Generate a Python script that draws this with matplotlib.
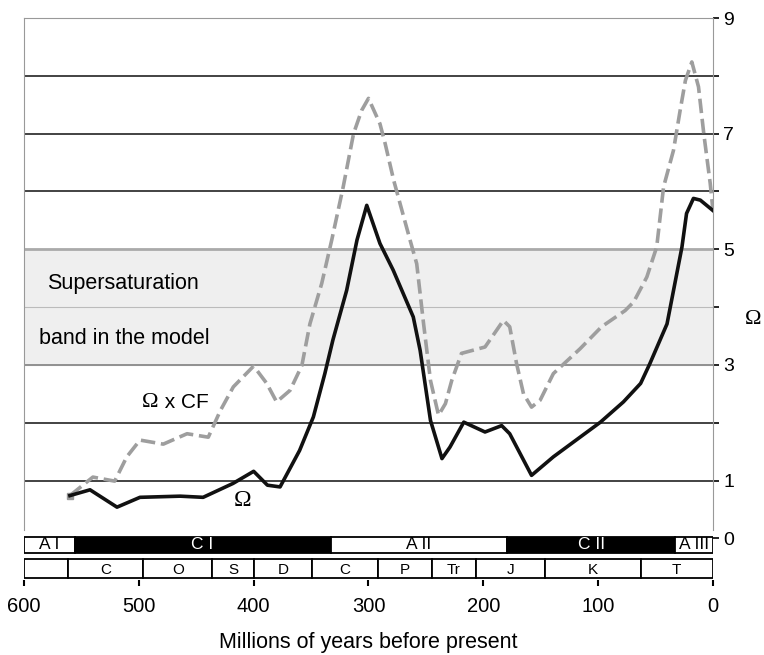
import matplotlib.pyplot as plt
from matplotlib.ticker import FixedLocator

plt.rcParams['font.family'] = ['Liberation Sans', 'DejaVu Sans']

# Omega (solid black)
omega_age = [560, 542.5, 519, 499, 464, 444, 418, 400, 388, 377, 360, 348, 338, 331,
             319, 310, 301.5, 290, 278.5, 261, 255, 246, 236, 229, 217, 198.5, 184,
             177, 158, 139, 118.5, 98, 78, 63, 55, 40, 31.5, 27, 23, 17, 11, 0]
omega_val = [0.74, 0.84, 0.54, 0.71, 0.73, 0.71, 0.95, 1.16, 0.92, 0.89, 1.52, 2.1, 2.85, 3.43,
             4.29, 5.16, 5.76, 5.1, 4.64, 3.83, 3.25, 2.04, 1.38, 1.58, 2.01, 1.84, 1.95,
             1.81, 1.09, 1.41, 1.71, 2.01, 2.36, 2.68, 3.02, 3.71, 4.58, 5.04, 5.62, 5.88, 5.85, 5.67]

# Omega x CF (grey dashed)
cf_age = [560, 540, 521, 510.5, 499, 478.7, 458, 439.5, 429, 417.7, 400, 388.6, 380, 368.3,
          358, 351, 340.7, 332, 322, 313, 306, 300, 290, 285.5, 278, 263.8, 258, 252, 246,
          239, 233, 227.5, 219, 198.5, 182.5, 177, 171, 165, 158, 150.5, 139, 115.7, 97,
          76.5, 69, 57.6, 49, 43, 34.4, 28.6, 24, 18.4, 12.6, 8, 2.4, 0]
cf_val = [0.74, 1.06, 0.99, 1.41, 1.70, 1.63, 1.81, 1.75, 2.21, 2.62, 2.98, 2.68, 2.36, 2.56,
          2.99, 3.71, 4.41, 5.16, 6.08, 7.0, 7.40, 7.61, 7.17, 6.83, 6.19, 5.16, 4.75, 3.71, 2.73,
          2.13, 2.33, 2.73, 3.2, 3.31, 3.77, 3.66, 3.02, 2.5, 2.27, 2.39, 2.85, 3.28, 3.66,
          3.94, 4.09, 4.52, 5.04, 6.08, 6.71, 7.4, 7.92, 8.24, 7.81, 7.0, 6.14, 5.67]

# eras (start, end, label, dark)
era_start = [600, 556, 333, 179, 33]
era_end = [556, 333, 179, 33, 0]
era_label = ['A I', 'C I', 'A II', 'C II', 'A III']
era_dark = [False, True, False, True, False]

# geological periods
per_edges = [600, 562, 496, 436, 400, 349, 292, 245, 206, 146, 63, 0]
per_label = ['', 'C', 'O', 'S', 'D', 'C', 'P', 'Tr', 'J', 'K', 'T']

fig = plt.figure(figsize=(7.64, 6.55), dpi=100)
ax = fig.add_axes([0.0314, 0.1145, 0.9018, 0.858])
ax.set_xlim(600, 0)
ax.set_ylim(-0.72, 9)

# supersaturation band
ax.axhspan(3, 5, color='#efefef', zorder=0)
for y in [1, 2, 6, 7, 8]:
    ax.axhline(y, color='#222222', lw=1.2, zorder=1)
ax.axhline(3, color='#888888', lw=1.3, zorder=1)
ax.axhline(5, color='#aaaaaa', lw=2.0, zorder=1)
ax.axhline(4, color='#bbbbbb', lw=0.8, zorder=1)

ax.plot(cf_age, cf_val, color='#9e9e9e', lw=2.6, dashes=(4, 1.6),
        solid_joinstyle='round', dash_joinstyle='round', zorder=3)
ax.plot(cf_age[0], cf_val[0], 's', color='#999999', ms=4, zorder=3)
ax.plot(omega_age, omega_val, color='#111111', lw=2.6, solid_joinstyle='round', zorder=4)

# era bar
for s, e, lab, dark in zip(era_start, era_end, era_label, era_dark):
    fc = 'black' if dark else 'white'
    ax.barh(-0.12, e - s, left=s, height=0.28, color=fc, edgecolor='black', lw=1.3, zorder=5)
    ax.text((s + e) / 2, -0.1, lab, ha='center', va='center', fontsize=12.5,
            color='white' if dark else 'black', zorder=6)

# period bar
for i, lab in enumerate(per_label):
    s, e = per_edges[i], per_edges[i + 1]
    ax.barh(-0.52, e - s, left=s, height=0.33, color='white', edgecolor='black', lw=1.3, zorder=5)
    ax.text((s + e) / 2, -0.54, lab, ha='center', va='center', fontsize=11, zorder=6)

# texts
ax.text(580, 4.4, 'Supersaturation', fontsize=15.5, va='center')
ax.text(587, 3.45, 'band in the model', fontsize=15.5, va='center')
ax.text(483, 2.35, '\u03a9', fontsize=16, va='center', ha='right', family='Liberation Serif')
ax.text(482, 2.35, ' x CF', fontsize=15, va='center', ha='left')
ax.text(410, 0.65, '\u03a9', fontsize=17, va='center', ha='center', family='Liberation Serif')

# axes styling
for sp in ['left', 'right', 'top']:
    ax.spines[sp].set_color('#999999')
ax.spines['left'].set_bounds(0.15, 9)
ax.spines['right'].set_bounds(0.15, 9)
ax.spines['bottom'].set_visible(False)

ax.yaxis.tick_right()
ax.yaxis.set_major_locator(FixedLocator([0, 1, 3, 5, 7, 9]))
ax.yaxis.set_minor_locator(FixedLocator([2, 4, 6, 8]))
ax.tick_params(axis='y', which='both', direction='out', length=4, width=1.2,
               colors='black', labelsize=14)
ax.set_ylabel('\u03a9', rotation=0, fontsize=16, family='Liberation Serif', ha='center')
ax.yaxis.set_label_position('right')
ax.yaxis.set_label_coords(1.058, 0.48)

ax.set_xticks([600, 500, 400, 300, 200, 100, 0])
ax.tick_params(axis='x', direction='out', length=4, width=1.5, labelsize=14.5, pad=8)
ax.set_xlabel('Millions of years before present', fontsize=15.5, labelpad=12)

fig.savefig('out.png', dpi=100)
